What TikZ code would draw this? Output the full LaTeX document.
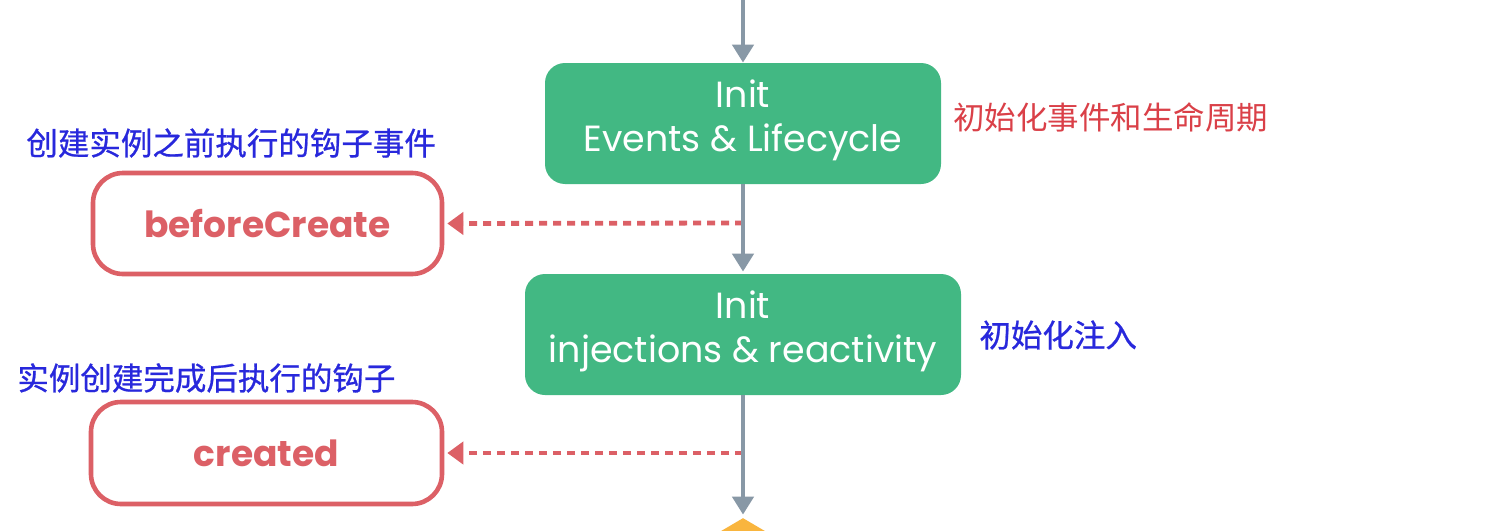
\documentclass[tikz,border=0pt]{standalone}
\usepackage{fontspec}
\setmainfont{Poppins}
\newfontfamily\cjk{Noto Sans CJK SC}
\newfontfamily\cjkb[FakeBold=0.7]{Noto Sans CJK SC}
\usetikzlibrary{arrows.meta,shapes.geometric}
\definecolor{vgreen}{RGB}{66,184,131}
\definecolor{vgray}{RGB}{136,152,166}
\definecolor{hookred}{RGB}{220,96,102}
\definecolor{notered}{RGB}{218,64,72}
\definecolor{noteblue}{RGB}{40,40,220}
\definecolor{vorange}{RGB}{249,181,62}
\begin{document}
\begin{tikzpicture}[x=0.5pt,y=-0.5pt,
  initbox/.style={rectangle, rounded corners=10pt, fill=vgreen, text=white, align=center, font=\fontsize{18.2}{22}\selectfont, inner sep=0pt, text depth=7.5pt},
  hookbox/.style={rectangle, rounded corners=15pt, draw=hookred, line width=2.3pt, text=hookred, font=\bfseries\fontsize{18}{20}\selectfont, inner sep=0pt},
  flow/.style={draw=vgray, line width=2.4pt, -{Triangle[width=10.5pt,length=9pt]}},
  hookarrow/.style={draw=hookred, line width=2.4pt, dash pattern=on 4pt off 3pt, -{Triangle[width=11pt,length=8pt]}, shorten >=1.5pt},
  note/.style={anchor=west, inner sep=0pt, font=\cjk\fontsize{15.75}{18}\selectfont},
  noteb/.style={anchor=west, inner sep=0pt, font=\cjkb\fontsize{15.75}{18}\selectfont}]
\useasboundingbox (0,0) rectangle (1498,530);
\clip (0,0) rectangle (1498,530);
\fill[white] (0,0) rectangle (1498,530);

\node[initbox, minimum width=198pt, minimum height=60.5pt] (ev) at (743,123.5) {Init\\Events \& Lifecycle};
\node[initbox, minimum width=218pt, minimum height=60.5pt] (inj) at (743,334.5) {Init\\injections \& reactivity};
\node[hookbox, minimum width=174.5pt, minimum height=50.5pt] (bc) at (267.5,223.5) {beforeCreate};
\node[hookbox, minimum width=175.5pt, minimum height=51pt] (cr) at (266.5,453) {created};
\node[diamond, fill=vorange, minimum width=68pt, minimum height=40pt, inner sep=0pt] (dec) at (743,558) {};

\node[note, text=notered] (n1) at (953,117) {初始化事件和生命周期};
\node[noteb, text=noteblue] (n2) at (26,143) {创建实例之前执行的钩子事件};
\node[noteb, text=noteblue] (n3) at (979,335) {初始化注入};
\node[noteb, text=noteblue] (n4) at (17,378) {实例创建完成后执行的钩子};

\coordinate (start) at (743,-10);
\coordinate (j1) at (743,223);
\coordinate (j2) at (743,453);

\draw[hookarrow] (j1) -- (bc.east);
\draw[hookarrow] (j2) -- (cr.east);

\draw[flow] (start) -- (ev.north);
\draw[flow, shorten >=1pt] (ev.south) -- (inj.north);
\draw[flow, shorten >=1.5pt] (inj.south) -- (dec.north);
\end{tikzpicture}
\end{document}
